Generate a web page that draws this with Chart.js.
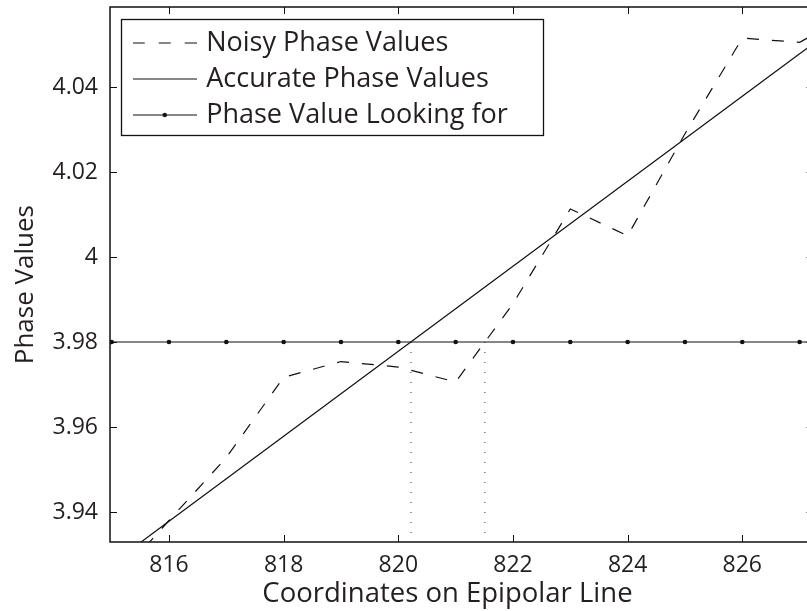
<!DOCTYPE html>
<html>
<head>
<meta charset="utf-8">
<script src="https://cdn.jsdelivr.net/npm/chart.js@4/dist/chart.umd.min.js"></script>
<style>
  html, body { margin: 0; padding: 0; background: #fff; overflow: hidden; }
  #wrap { position: relative; width: 816px; height: 611px; }
</style>
</head>
<body>
<div id="wrap"><canvas id="c"></canvas></div>
<script>
// ---- data ----
const xCoords = [815, 816, 817, 818, 819, 820, 821, 822, 823, 824, 825, 826, 827, 828];
const noisyPhase = [3.923, 3.938, 3.9528, 3.9717, 3.9754, 3.9741, 3.9706, 3.989, 4.0113, 4.005, 4.029, 4.0515, 4.0505, 4.058];
const accuratePhase = [3.9278, 3.9378, 3.9478, 3.9578, 3.9678, 3.9778, 3.9878, 3.9978, 4.0078, 4.0178, 4.0278, 4.0378, 4.0478, 4.0578];
const targetPhase = [3.98, 3.98, 3.98, 3.98, 3.98, 3.98, 3.98, 3.98, 3.98, 3.98, 3.98, 3.98, 3.98, 3.98];
const crossingCoords = [820.22, 821.51];
const xTickValues = [816, 818, 820, 822, 824, 826];
const xTickLabels = ['816', '818', '820', '822', '824', '826'];
const yTickValues = [3.94, 3.96, 3.98, 4, 4.02, 4.04];
const yTickLabels = ['3.94', '3.96', '3.98', '4', '4.02', '4.04'];
const seriesNames = ['Noisy Phase Values', 'Accurate Phase Values', 'Phase Value Looking for'];
const xMin = 814.971, xMax = 827.242;
const yMin = 3.93294, yMax = 4.05882;

const INK = '#111111';
const TEXT = '#231f20';
const FONT = 'Open Sans';

const pts = (xs, ys) => xs.map((x, i) => ({ x: x, y: ys[i] }));

function makeSample(dash, withDot) {
  const c = document.createElement('canvas');
  c.width = 64; c.height = 8;
  const g = c.getContext('2d');
  g.strokeStyle = INK; g.lineWidth = 1.2; g.setLineDash(dash);
  g.beginPath(); g.moveTo(0, 4); g.lineTo(64, 4); g.stroke();
  if (withDot) {
    g.setLineDash([]); g.fillStyle = INK;
    g.beginPath(); g.arc(32, 4, 2.2, 0, Math.PI * 2); g.fill();
  }
  return c;
}
const legendSamples = [makeSample([12, 14], false), makeSample([], false), makeSample([], true)];

const datasets = [
  { label: seriesNames[0], data: pts(xCoords, noisyPhase), borderColor: INK, borderWidth: 1.2,
    borderDash: [12, 13], pointRadius: 0, tension: 0 },
  { label: seriesNames[1], data: pts(xCoords, accuratePhase), borderColor: INK, borderWidth: 1.2,
    pointRadius: 0, tension: 0 },
  { label: seriesNames[2], data: pts(xCoords, targetPhase), borderColor: INK, borderWidth: 1.2,
    pointRadius: 2.3, pointBackgroundColor: INK, pointBorderWidth: 0, tension: 0 }
];
crossingCoords.forEach(c => {
  datasets.push({ label: 'crossing', data: [{ x: c, y: targetPhase[0] }, { x: c, y: yMin }],
    borderColor: '#333', borderWidth: 1, borderDash: [1, 9], pointRadius: 0 });
});

const framePlugin = {
  id: 'frame',
  afterLayout(chart) {
    const ca = chart.chartArea, lg = chart.legend;
    lg.left = ca.left + 17.7;
    lg.top = ca.top + 13.5;
  },
  afterDraw(chart) {
    const { ctx, chartArea: ca, scales } = chart;
    ctx.save();
    ctx.strokeStyle = INK;
    ctx.lineWidth = 1.5;
    ctx.strokeRect(ca.left, ca.top, ca.right - ca.left, ca.bottom - ca.top);
    ctx.lineWidth = 1;
    const tl = 7;
    ctx.beginPath();
    scales.x.ticks.forEach(t => {
      const px = Math.round(scales.x.getPixelForValue(t.value)) + 0.5;
      ctx.moveTo(px, ca.bottom); ctx.lineTo(px, ca.bottom - tl);
      ctx.moveTo(px, ca.top); ctx.lineTo(px, ca.top + tl);
    });
    scales.y.ticks.forEach(t => {
      const py = Math.round(scales.y.getPixelForValue(t.value)) + 0.5;
      ctx.moveTo(ca.left, py); ctx.lineTo(ca.left + tl, py);
      ctx.moveTo(ca.right, py); ctx.lineTo(ca.right - tl, py);
    });
    ctx.stroke();
    // legend frame
    const lg = chart.legend;
    const lo = lg.options.labels;
    const fs = lo.font.size;
    ctx.font = fs + 'px "' + FONT + '"';
    const maxW = Math.max(...lg.legendItems.map(it => ctx.measureText(it.text).width));
    const textStart = lg.left + lo.padding + lo.pointStyleWidth + fs / 2;
    const n = lg.legendItems.length;
    const lastCenter = lg.top + lo.padding + (n - 1) * (fs + lo.padding) + fs / 2;
    const fl = Math.round(lg.left - 7) + 0.5, ft = Math.round(lg.top - 2) + 0.5;
    const fr = Math.round(textStart + maxW + 35) + 0.5, fb = Math.round(lastCenter + 20) + 0.5;
    ctx.lineWidth = 1.3;
    ctx.strokeRect(fl, ft, fr - fl, fb - ft);
    ctx.restore();
  }
};

new Chart(document.getElementById('c'), {
  type: 'line',
  data: { datasets: datasets },
  options: {
    responsive: true,
    maintainAspectRatio: false,
    animation: false,
    devicePixelRatio: 1,
    layout: { autoPadding: false, padding: { left: 0, top: 7, right: 2.5, bottom: 0 } },
    plugins: {
      tooltip: { enabled: false },
      legend: {
        display: true,
        position: 'chartArea',
        align: 'start',
        fullSize: false,
        labels: {
          usePointStyle: true,
          pointStyleWidth: 56,
          padding: 9,
          color: TEXT,
          font: { family: FONT, size: 27 },
          generateLabels: chart => seriesNames.map((name, i) => ({
            text: name, pointStyle: legendSamples[i], fillStyle: INK, strokeStyle: INK,
            lineWidth: 0, hidden: false, datasetIndex: i, fontColor: TEXT
          }))
        }
      }
    },
    scales: {
      x: {
        type: 'linear', position: 'bottom', min: xMin, max: xMax,
        afterBuildTicks: s => { s.ticks = xTickValues.map(v => ({ value: v })); },
        afterFit: s => { s.height = 69; s.paddingLeft = 0; s.paddingRight = 0; },
        grid: { display: false, drawTicks: false },
        border: { display: false },
        ticks: { padding: 10, maxRotation: 0, autoSkip: false, color: TEXT,
          font: { family: FONT, size: 23 }, callback: (v, i) => xTickLabels[i] },
        title: { display: true, text: 'Coordinates on Epipolar Line    ', color: TEXT,
          font: { family: FONT, size: 27.5 }, padding: { top: 0, bottom: 0 } }
      },
      y: {
        type: 'linear', position: 'left', min: yMin, max: yMax,
        afterBuildTicks: s => { s.ticks = yTickValues.map(v => ({ value: v })); },
        afterFit: s => { s.width = 110; s.paddingTop = 0; s.paddingBottom = 0; },
        grid: { display: false, drawTicks: false },
        border: { display: false },
        ticks: { padding: 12, color: TEXT, font: { family: FONT, size: 23 },
          callback: (v, i) => yTickLabels[i] },
        title: { display: true, text: 'Phase Values   ', color: TEXT,
          font: { family: FONT, size: 26 }, padding: { top: 10, bottom: 0 } }
      }
    }
  },
  plugins: [framePlugin]
});
</script>
</body>
</html>
